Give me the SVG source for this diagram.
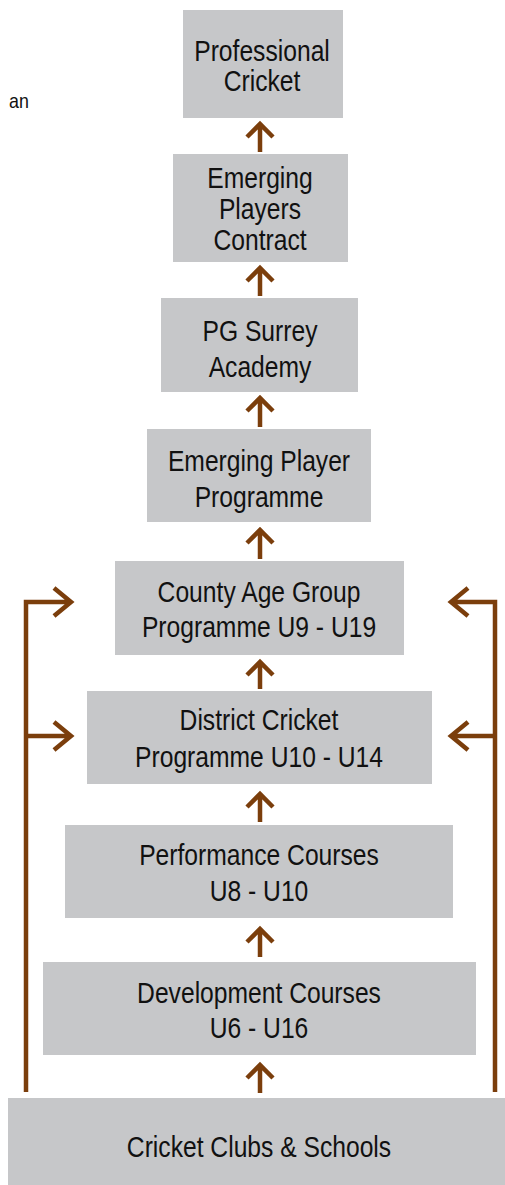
<svg xmlns="http://www.w3.org/2000/svg" width="505" height="1185" viewBox="0 0 505 1185">
<style>
.box{fill:#c6c7c9}
.t{font-family:"Liberation Sans",Arial,sans-serif;font-size:29px;fill:#111;text-anchor:middle}
.c{fill:none;stroke:#7b3e0c;stroke-width:4.5}
</style>
<rect width="505" height="1185" fill="#fff"/>
<text transform="translate(9,108) scale(0.85,1)" style="font-family:'Liberation Sans',Arial,sans-serif;font-size:21px;fill:#111">an</text>
<g id="n1"><rect class="box" x="183" y="10" width="160" height="108"/><text class="t" transform="translate(262,61) scale(0.85,1)">Professional</text><text class="t" transform="translate(262,91) scale(0.85,1)">Cricket</text></g>
<g id="n2"><rect class="box" x="173" y="154" width="175" height="108"/><text class="t" transform="translate(260,188) scale(0.85,1)">Emerging</text><text class="t" transform="translate(260,219) scale(0.85,1)">Players</text><text class="t" transform="translate(260,250) scale(0.85,1)">Contract</text></g>
<g id="n3"><rect class="box" x="161" y="298" width="197" height="94"/><text class="t" transform="translate(260,341) scale(0.85,1)">PG Surrey</text><text class="t" transform="translate(260,377) scale(0.85,1)">Academy</text></g>
<g id="n4"><rect class="box" x="147" y="429" width="224" height="93"/><text class="t" transform="translate(259,471) scale(0.85,1)">Emerging Player</text><text class="t" transform="translate(259,507) scale(0.85,1)">Programme</text></g>
<g id="n5"><rect class="box" x="115" y="561" width="289" height="94"/><text class="t" transform="translate(259,602) scale(0.85,1)">County Age Group</text><text class="t" transform="translate(259,637) scale(0.85,1)">Programme U9 - U19</text></g>
<g id="n6"><rect class="box" x="87" y="691" width="345" height="93"/><text class="t" transform="translate(259,730) scale(0.85,1)">District Cricket</text><text class="t" transform="translate(259,767) scale(0.85,1)">Programme U10 - U14</text></g>
<g id="n7"><rect class="box" x="65" y="825" width="388" height="93"/><text class="t" transform="translate(259,865) scale(0.85,1)">Performance Courses</text><text class="t" transform="translate(259,901) scale(0.85,1)">U8 - U10</text></g>
<g id="n8"><rect class="box" x="43" y="962" width="433" height="93"/><text class="t" transform="translate(259,1003) scale(0.85,1)">Development Courses</text><text class="t" transform="translate(259,1038) scale(0.85,1)">U6 - U16</text></g>
<g id="n9"><rect class="box" x="8" y="1098" width="497" height="87"/><text class="t" transform="translate(259,1157) scale(0.85,1)">Cricket Clubs &amp; Schools</text></g>
<g id="connectors" class="c">
<path d="M260,124V152M247,137L260,124L273,137"/>
<path d="M260,268V296M247,281L260,268L273,281"/>
<path d="M260,398V427M247,411L260,398L273,411"/>
<path d="M260,530V559M247,543L260,530L273,543"/>
<path d="M260,662V689M247,675L260,662L273,675"/>
<path d="M260,794V822M247,807L260,794L273,807"/>
<path d="M260,929V957M247,942L260,929L273,942"/>
<path d="M260,1065V1093M247,1078L260,1065L273,1078"/>
<path d="M26,1092V602H71M54,588L71,602L54,616"/>
<path d="M26,736H71M54,722L71,736L54,750"/>
<path d="M495,1092V602H451M468,588L451,602L468,616"/>
<path d="M495,736H451M468,722L451,736L468,750"/>
</g>
</svg>
